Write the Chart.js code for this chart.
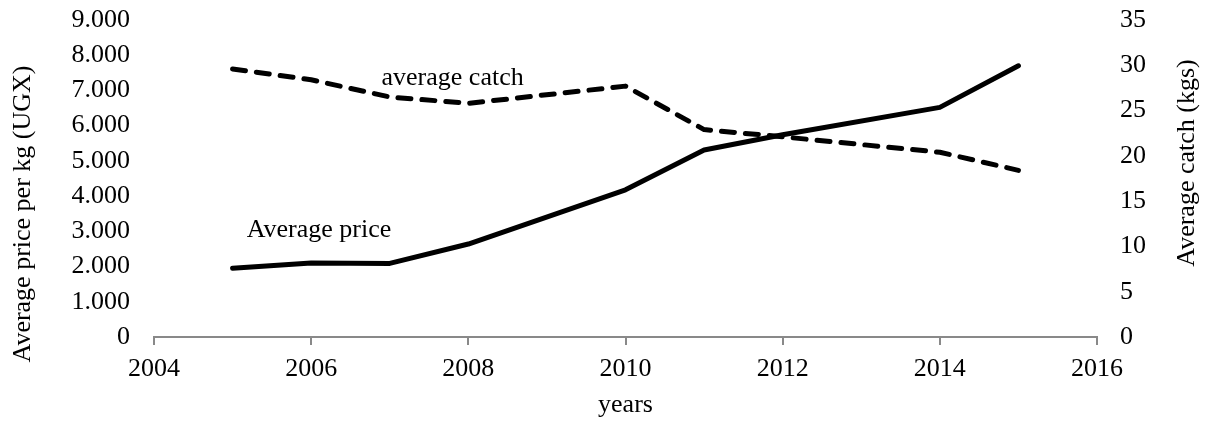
<!DOCTYPE html>
<html>
<head>
<meta charset="utf-8">
<script src="https://cdn.jsdelivr.net/npm/chart.js@4"></script>
<style>
  html, body { margin: 0; padding: 0; background: #fff; }
  #wrap { width: 1207px; height: 423px; position: relative; }
</style>
</head>
<body>
<div id="wrap"><canvas id="c" width="1207" height="423"></canvas></div>
<script>
// ---- data ----
const years = [2005, 2006, 2007, 2008, 2010, 2011, 2012, 2014, 2015];
const avgPrice = [1950, 2100, 2090, 2640, 4180, 5310, 5740, 6520, 7700];
const avgCatch = [29.6, 28.4, 26.5, 25.8, 27.7, 22.9, 22.1, 20.4, 18.4];
const priceTicks = [0, 1000, 2000, 3000, 4000, 5000, 6000, 7000, 8000, 9000];
const catchTicks = [0, 5, 10, 15, 20, 25, 30, 35];
const yearTicks = [2004, 2006, 2008, 2010, 2012, 2014, 2016];
const labelPrice = { text: 'Average price', year: 2006.1, value: 3040 };
const labelCatch = { text: 'average catch', year: 2007.8, value: 28.6 };
const titleLeft = 'Average price per kg (UGX)';
const titleRight = 'Average catch (kgs)';
const titleX = 'years';

const FONT = '"Liberation Serif", "Times New Roman", serif';
const fmtThousands = v => v === 0 ? '0' : (v / 1000).toFixed(3);

const overlayPlugin = {
  id: 'overlay',
  afterDraw(chart) {
    const ctx = chart.ctx;
    const xs = chart.scales.x, yl = chart.scales.yPrice, yr = chart.scales.yCatch;
    const ca = chart.chartArea;
    ctx.save();
    ctx.fillStyle = '#000';
    ctx.font = '26px ' + FONT;
    ctx.textAlign = 'center';
    ctx.textBaseline = 'middle';
    ctx.fillText(labelPrice.text, xs.getPixelForValue(labelPrice.year), yl.getPixelForValue(labelPrice.value));
    ctx.fillText(labelCatch.text, xs.getPixelForValue(labelCatch.year), yr.getPixelForValue(labelCatch.value));
    // axis titles
    ctx.save();
    ctx.translate(ca.left - 131, ca.top + 194);
    ctx.rotate(-Math.PI / 2);
    ctx.fillText(titleLeft, 0, 0);
    ctx.restore();
    ctx.save();
    ctx.translate(ca.right + 90, ca.top + 143);
    ctx.rotate(-Math.PI / 2);
    ctx.fillText(titleRight, 0, 0);
    ctx.restore();
    ctx.restore();
  }
};

new Chart(document.getElementById('c'), {
  type: 'line',
  data: {
    datasets: [
      {
        label: 'Average price',
        data: years.map((y, i) => ({ x: y, y: avgPrice[i] })),
        yAxisID: 'yPrice',
        borderColor: '#000',
        borderWidth: 5,
        pointRadius: 0,
        tension: 0,
        borderCapStyle: 'round',
        borderJoinStyle: 'round'
      },
      {
        label: 'Average catch',
        data: years.map((y, i) => ({ x: y, y: avgCatch[i] })),
        yAxisID: 'yCatch',
        borderColor: '#000',
        borderWidth: 5,
        borderDash: [13, 11],
        borderCapStyle: 'round',
        borderJoinStyle: 'round',
        pointRadius: 0,
        tension: 0
      }
    ]
  },
  options: {
    responsive: false,
    animation: false,
    events: [],
    layout: { padding: { top: 20, left: 0, right: 0, bottom: 0 } },
    plugins: { legend: { display: false }, tooltip: { enabled: false } },
    scales: {
      x: {
        type: 'linear',
        min: 2004, max: 2016,
        afterBuildTicks: s => { s.ticks = yearTicks.map(v => ({ value: v })); },
        afterFit: s => { s.height = 86; },
        grid: { display: true, drawOnChartArea: false, drawTicks: true, tickLength: 8, color: '#898989', lineWidth: 2 },
        border: { display: true, color: '#898989', width: 2 },
        ticks: { color: '#000', font: { family: FONT, size: 26 }, padding: 9, maxRotation: 0, autoSkip: false, callback: v => String(v) },
        title: { display: true, text: titleX, color: '#000', font: { family: FONT, size: 26 }, padding: { top: 2, bottom: 2 } }
      },
      yPrice: {
        type: 'linear',
        position: 'left',
        min: 0, max: 9000,
        afterBuildTicks: s => { s.ticks = priceTicks.map(v => ({ value: v })); },
        afterFit: s => { s.width = 154; s.paddingTop = 0; s.paddingBottom = 0; },
        grid: { display: false, drawTicks: false },
        border: { display: false },
        ticks: { color: '#000', font: { family: FONT, size: 26 }, padding: 24, autoSkip: false, callback: v => fmtThousands(v) }
      },
      yCatch: {
        type: 'linear',
        position: 'right',
        min: 0, max: 35,
        afterBuildTicks: s => { s.ticks = catchTicks.map(v => ({ value: v })); },
        afterFit: s => { s.width = 110; s.paddingTop = 0; s.paddingBottom = 0; },
        grid: { display: false, drawTicks: false },
        border: { display: false },
        ticks: { color: '#000', font: { family: FONT, size: 26 }, padding: 23, autoSkip: false, callback: v => String(v) }
      }
    }
  },
  plugins: [overlayPlugin]
});
</script>
</body>
</html>
